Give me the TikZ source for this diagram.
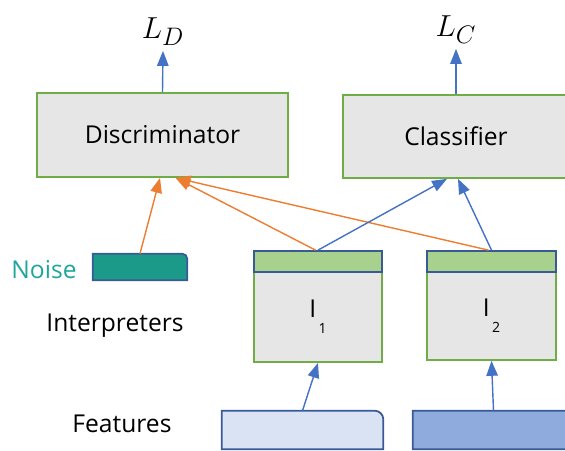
\documentclass[tikz,border=0pt]{standalone}
\usepackage{fontspec}
\setmainfont{Open Sans}
\usetikzlibrary{arrows.meta}

\definecolor{boxgray}{HTML}{E6E6E6}
\definecolor{boxgreen}{HTML}{70AD47}
\definecolor{barfill}{HTML}{A9D18E}
\definecolor{edgeblue}{HTML}{3A5A95}
\definecolor{noisefill}{HTML}{1B9A8A}
\definecolor{noisetext}{HTML}{1FA69C}
\definecolor{featlight}{HTML}{DAE3F3}
\definecolor{featdark}{HTML}{8FAADC}
\definecolor{flowblue}{HTML}{4472C4}
\definecolor{floworange}{HTML}{ED7D31}

\begin{document}
\begin{tikzpicture}[x=0.02cm, y=-0.02cm,
	block/.style={draw=boxgreen, line width=1pt, fill=boxgray, inner sep=0pt,
		font=\fontsize{14}{16}\selectfont},
	bar/.style={draw=edgeblue, line width=1pt, fill=barfill, inner sep=0pt,
		minimum width=2.56cm, minimum height=0.42cm},
	tab/.style={inner sep=0pt},
	tabline/.style={draw=edgeblue, line width=1pt},
	label/.style={font=\fontsize{14}{16}\selectfont},
	loss/.style={font=\fontsize{19}{21}\selectfont, inner sep=1pt},
	feed/.style={-{Triangle[length=8.5pt,width=6.5pt]}, line width=0.8pt},
]
	\useasboundingbox (0,0) rectangle (565,450);
	\clip (0,0) rectangle (565,450);

	% upper blocks
	\node [block, minimum width=5.02cm, minimum height=1.68cm] (disc) at (162.5,135) {Discriminator};
	\node [block, minimum width=4.52cm, minimum height=1.66cm] (clf) at (456,136.5) {Classifier};
	\node [loss] (ld) at (163,32) {$L_D$};
	\node [loss] (lc) at (456,30) {$L_C$};

	% interpreters
	\node [block, minimum width=2.56cm, minimum height=1.8cm] (i1) at (318,317)
		{I\raisebox{-1.2ex}{\fontsize{8}{8}\selectfont\,1}};
	\node [block, minimum width=2.58cm, minimum height=1.76cm] (i2) at (491.5,316)
		{I\raisebox{-1.2ex}{\fontsize{8}{8}\selectfont\,2}};
	\node [bar] (i1bar) at (318,261.5) {};
	\node [bar, minimum width=2.58cm] (i2bar) at (491.5,261.5) {};

	% noise and features
	\node [tab, minimum width=1.88cm, minimum height=0.52cm] (noise) at (140,267) {};
	\draw [tabline, fill=noisefill] (noise.south west) -- (noise.north west)
		-- ([xshift=-3pt]noise.north east) to[out=0,in=90] ([yshift=-3pt]noise.north east)
		-- (noise.south east) -- cycle;
	\node [tab, minimum width=3.22cm, minimum height=0.76cm] (feat1) at (302.5,430) {};
	\draw [tabline, fill=featlight] (feat1.south west) -- (feat1.north west)
		-- ([xshift=-5pt]feat1.north east) to[out=0,in=90] ([yshift=-5pt]feat1.north east)
		-- (feat1.south east) -- cycle;
	\node [tab, minimum width=3.22cm, minimum height=0.76cm] (feat2) at (493.5,430) {};
	\draw [tabline, fill=featdark] (feat2.south west) -- (feat2.north west)
		-- ([xshift=-5pt]feat2.north east) to[out=0,in=90] ([yshift=-5pt]feat2.north east)
		-- (feat2.south east) -- cycle;

	% row labels
	\node [label, text=noisetext] (noiselbl) at (44,270) {Noise};
	\node [label] (interp) at (115,326) {Interpreters};
	\node [label] (featlbl) at (122,424) {Features};

	% flows
	\draw [feed, flowblue] (disc.north) -- ([yshift=-0.06cm]ld.south);
	\draw [feed, flowblue] (clf.north) -- ([yshift=-0.06cm]lc.south);
	\draw [feed, floworange] (noise.north) -- ([xshift=-0.05cm]disc.south);
	\draw [feed, floworange] ([xshift=-0.05cm]i1bar.north) -- ([xshift=0.26cm]disc.south);
	\draw [feed, floworange] ([xshift=-0.06cm]i2bar.north) -- ([xshift=0.26cm]disc.south);
	\draw [feed, flowblue] (i1bar.north) -- ([xshift=-0.18cm]clf.south);
	\draw [feed, flowblue] (i2bar.north) -- ([xshift=0.04cm]clf.south);
	\draw [feed, flowblue] (feat1.north) -- (i1.south);
	\draw [feed, flowblue] (feat2.north) -- (i2.south);
\end{tikzpicture}
\end{document}
